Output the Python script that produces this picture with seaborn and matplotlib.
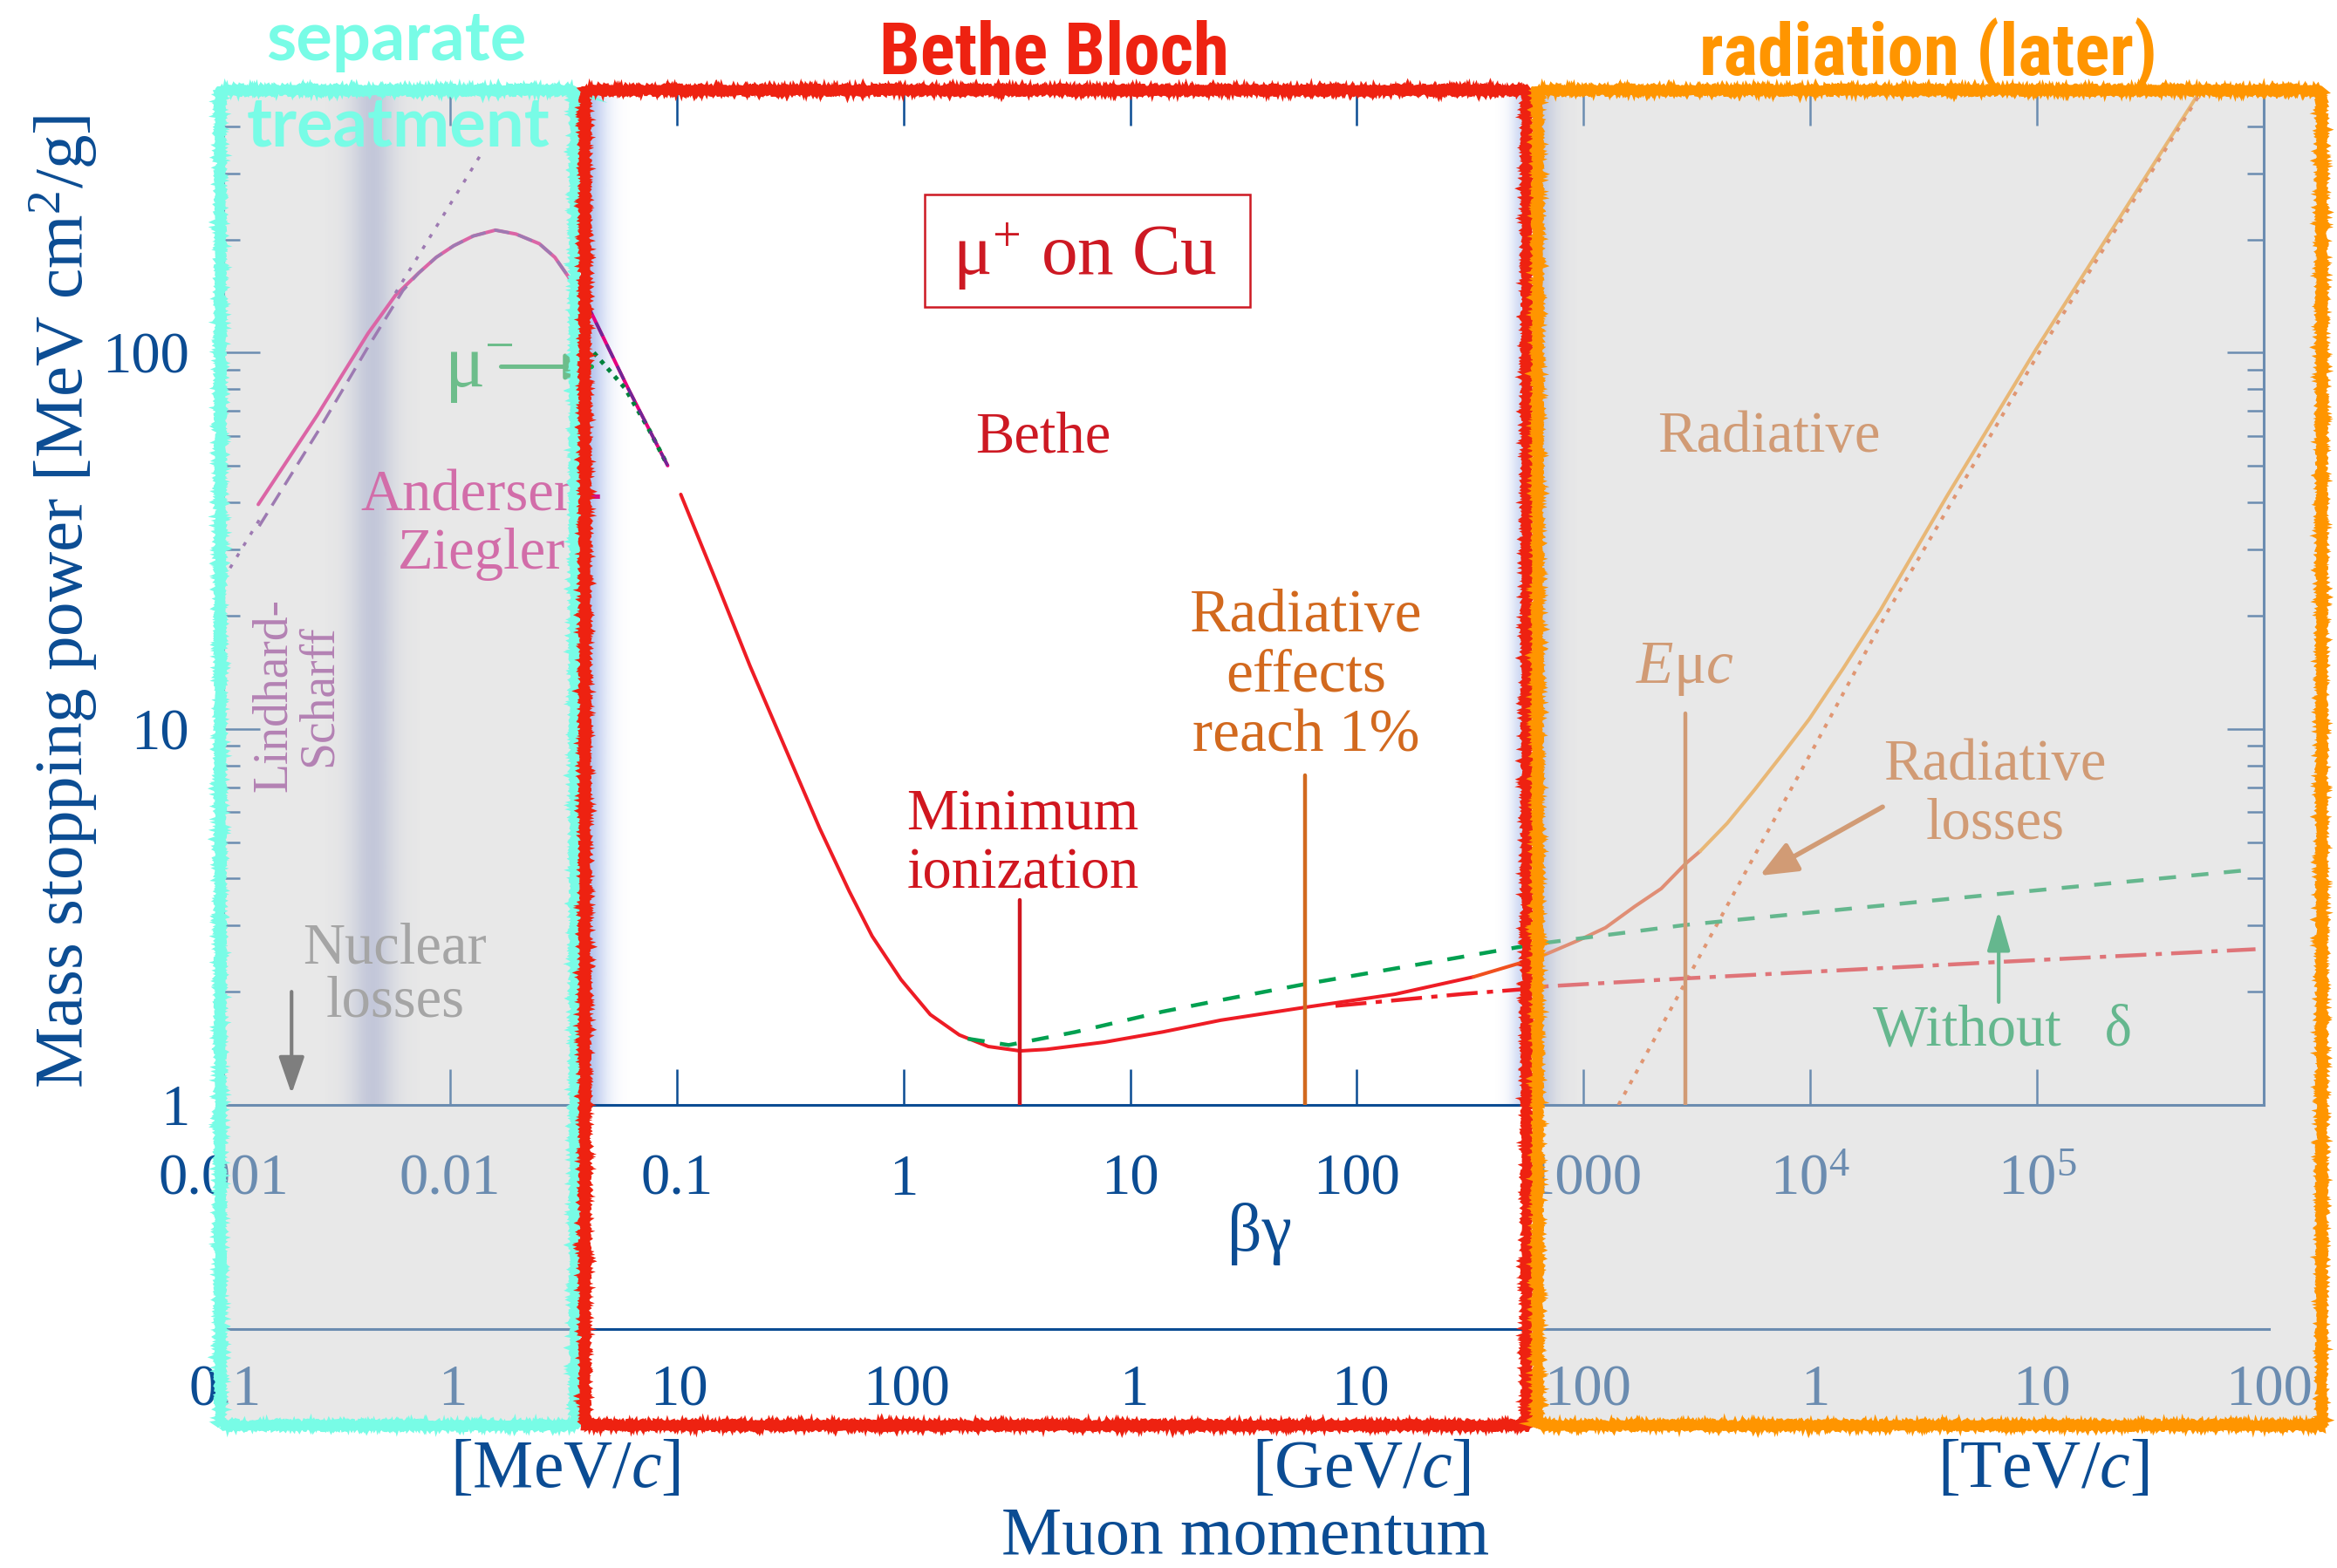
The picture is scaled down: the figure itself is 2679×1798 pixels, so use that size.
import numpy as np
import matplotlib
matplotlib.use("Agg")
import matplotlib.pyplot as plt
import seaborn as sns
from matplotlib import font_manager as fm
from matplotlib.patches import Rectangle
from matplotlib.lines import Line2D
from matplotlib.ticker import LogLocator, NullLocator, NullFormatter

# ---------------- data: mu+ on Cu, mass stopping power [MeV cm^2/g] vs beta*gamma ----------------
# Andersen-Ziegler parameterisation (low energy), continued into the Bethe region
az_bg = [0.001426, 0.0026, 0.00336, 0.00435, 0.00574, 0.00727, 0.00869, 0.01038, 0.01265, 0.01585,
         0.01953, 0.02477, 0.029, 0.0333, 0.0375, 0.0406, 0.0614, 0.0912]
az_S = [39.5, 68.3, 87.7, 112.6, 142.0, 162.9, 179.3, 192.5, 204.3, 211.8,
        206.8, 194.9, 179.3, 159.1, 141.3, 133.1, 79.8, 50.1]
# Lindhard-Scharff: curved (dashed) part and the straight asymptote (dotted)
ls_bg = [0.00144, 0.0026, 0.00435, 0.0062, 0.00727, 0.00869, 0.01038, 0.01265, 0.01585, 0.01953,
         0.02477, 0.029, 0.0333, 0.0375, 0.0406, 0.0614, 0.0912]
ls_S = [34.6, 61.4, 103.6, 146.4, 162.9, 179.3, 192.5, 204.3, 211.8, 206.8,
        194.9, 179.3, 159.1, 141.3, 133.1, 79.8, 50.1]
ls_low_bg = [0.001, 0.00144]
ls_low_S = [25.0, 35.9]
ls_high_bg = [0.00574, 0.0137]
ls_high_S = [144.0, 337.0]
# mu- (Barkas) branch
mum_bg = [0.0431, 0.0591, 0.0749, 0.0912]
mum_S = [100.0, 80.5, 63.0, 50.1]
# Bethe (ionization) curve
bethe_bg = [0.1042, 0.15, 0.2104, 0.3107, 0.4276, 0.5765, 0.7275, 0.976, 1.313, 1.763, 2.367, 3.27,
            4.27, 7.71, 13.9, 25.1, 59.2, 147.6, 327.0]
bethe_S = [42.0, 24.5, 14.7, 8.5, 5.43, 3.7, 2.81, 2.153, 1.739, 1.535, 1.43, 1.392,
           1.405, 1.469, 1.563, 1.68, 1.818, 1.970, 2.19]
# total (ionization + radiative), low part and high part
tot_low_bg = [327.0, 540.0, 645.0, 969.0, 1250.0, 1683.0, 2200.0, 2818.0, 3270.0]
tot_low_S = [2.19, 2.396, 2.48, 2.754, 2.96, 3.372, 3.76, 4.38, 4.73]
tot_high_bg = [3270.0, 4300.0, 5683.0, 7500.0, 9877.0, 14000.0, 20310.0, 40000.0, 99100.0, 515000.0]
tot_high_S = [4.73, 5.61, 6.89, 8.53, 10.6, 14.5, 20.6, 41.5, 102.2, 488.0]
# radiative losses only
rad_bg = [1426.0, 2815.0, 5683.0, 9877.0, 22030.0, 101000.0, 515000.0]
rad_S = [1.0, 2.12, 4.61, 8.45, 20.6, 99.0, 480.0]
# ionization without density effect
nodelta_bg = [1.92, 2.91, 5.74, 13.9, 25.1, 59.2, 622.0, 2818.0, 68390.0, 920000.0]
nodelta_S = [1.50, 1.443, 1.563, 1.77, 1.90, 2.096, 2.68, 3.01, 3.64, 4.23]
# ionization with density effect, no radiative losses
norad_bg = [80.5, 300.0, 540.0, 622.0, 2818.0, 68390.0, 920000.0]
norad_S = [1.834, 1.975, 2.03, 2.06, 2.17, 2.40, 2.594]

# marker lines: (beta*gamma, top of line)
min_ion = (3.27, 3.50)
rad_1pct = (59.3, 7.52)
e_muc = (2818.0, 10.98)

bg_ticks = [1e-3, 1e-2, 1e-1, 1, 10, 100, 1e3, 1e4, 1e5, 1e6]
bg_labels = ["0.001", "0.01", "0.1", "1", "10", "100", "1000", r"$10^{4}$", r"$10^{5}$", ""]
p_ticks = [0.1, 1, 10, 100, 1e3, 1e4, 1e5, 1e6, 1e7, 1e8]   # MeV/c
p_labels = ["0.1", "1", "10", "100", "1", "10", "100", "1", "10", "100"]
S_ticks = [1, 10, 100]
S_labels = ["1", "10", "100"]

# ---------------- style ----------------
sns.set_style("white")
available = {f.name for f in fm.fontManager.ttflist}


def pick(*names):
    for n in names:
        if n in available:
            return n
    return "DejaVu Sans"


SERIF = pick("Liberation Serif", "DejaVu Serif")
COND = pick("Liberation Sans Narrow", "Roboto Condensed", "Open Sans Condensed", "Liberation Sans", "DejaVu Sans")
HUMAN = pick("Lato", "Open Sans", "DejaVu Sans")

plt.rcParams.update({
    "font.family": [SERIF, "DejaVu Serif"],
    "mathtext.fontset": "custom",
    "mathtext.rm": SERIF,
    "mathtext.it": SERIF + ":italic",
    "mathtext.bf": SERIF + ":bold",
    "mathtext.default": "regular",
})

BLUE = "#0B4C93"
RED = "#EE1C25"
DRED = "#CD1923"
ORANGE_T = "#D2691E"
GREEN = "#00A050"
DGREEN = "#00823C"
PINK = "#E6007E"
PURPLE = "#6E2896"
CYAN_F = "#78FCE6"
RED_F = "#EE2211"
ORANGE_F = "#FF9500"

W, H = 2679, 1798
fig = plt.figure(figsize=(W / 100, H / 100), dpi=100)


def fx(px):
    return px / W


def fy(py):
    return 1 - py / H


# underlay for soft vertical shading bands
under = fig.add_axes([0, 0, 1, 1], zorder=0)
under.axis("off")

ax = fig.add_axes([fx(256), fy(1267), fx(2595) - fx(256), fy(103) - fy(1267)], zorder=1)
ax.patch.set_alpha(0)
ax2 = fig.add_axes([fx(258), fy(1524), fx(2601) - fx(258), 0.05], zorder=1)
ax2.patch.set_alpha(0)
over = fig.add_axes([0, 0, 1, 1], zorder=5)
over.axis("off")


def band(x0, x1, color, alpha):
    img = np.zeros((1, len(alpha), 4))
    img[..., :3] = np.array(color) / 255.0
    img[0, :, 3] = alpha
    under.imshow(img, extent=(x0, x1, 1267, 103), aspect="auto", interpolation="bilinear")


xs = np.linspace(360, 500, 80)
band(360, 500, (100, 118, 195), 0.46 * np.exp(-0.5 * ((xs - 427) / 18) ** 2))
xs = np.linspace(668, 722, 60)
band(668, 722, (90, 125, 215), 0.5 * np.exp(-0.5 * ((xs - 670) / 17) ** 2))
xs = np.linspace(1705, 1750, 60)
band(1705, 1750, (90, 125, 215), 0.35 * np.exp(-0.5 * ((xs - 1750) / 12) ** 2))
xs = np.linspace(1760, 1815, 60)
band(1760, 1815, (90, 125, 215), 0.5 * np.exp(-0.5 * ((xs - 1762) / 15) ** 2))
under.set_xlim(0, W)
under.set_ylim(H, 0)


# ---------------- curves ----------------
def curve(x, y, color, lw, ls="-", z=3):
    sns.lineplot(x=x, y=y, ax=ax, color=color, lw=lw, ls=ls, estimator=None,
                 sort=False, legend=False, zorder=z)


curve(az_bg, az_S, PINK, 2.9)
curve(ls_bg, ls_S, PURPLE, 2.5, ls=(0, (5.0, 3.0)), z=3.2)
curve(ls_low_bg, ls_low_S, PURPLE, 2.5, ls=(0, (1.3, 3.0)))
curve(ls_high_bg, ls_high_S, PURPLE, 2.5, ls=(0, (1.3, 3.0)))
curve(mum_bg, mum_S, DGREEN, 3.6, ls=(0, (1.0, 1.4)))
curve(bethe_bg, bethe_S, RED, 2.9)
curve(tot_low_bg, tot_low_S, "#F0501E", 2.9)
curve(tot_high_bg, tot_high_S, "#FFA020", 2.9)
curve(rad_bg, rad_S, "#F0601A", 2.9, ls=(0, (1.2, 2.2)))
curve(nodelta_bg, nodelta_S, GREEN, 3.2, ls=(0, (4.4, 4.0)))
curve(norad_bg, norad_S, RED, 3.2, ls=(0, (8.0, 2.4, 1.6, 2.4)))

for (xv, top), col in [(min_ion, "#D0161F"), (rad_1pct, ORANGE_T), (e_muc, ORANGE_T)]:
    curve([xv, xv], [1.0, top], col, 3.2)

ax.set_xscale("log")
ax.set_yscale("log")
ax.set_xlim(1e-3, 1e6)
ax.set_ylim(1, 500)
ax.set_xlabel("")
ax.set_ylabel("")
ax.set_xticks(bg_ticks)
ax.set_xticklabels(bg_labels)
ax.xaxis.set_minor_locator(NullLocator())
ax.set_yticks(S_ticks)
ax.set_yticklabels(S_labels)
ax.yaxis.set_minor_locator(LogLocator(base=10, subs=range(2, 10)))
ax.yaxis.set_minor_formatter(NullFormatter())
ax.tick_params(axis="x", which="major", direction="in", length=29.5, width=1.8, top=True, bottom=True,
               pad=40, labelsize=48, labelcolor=BLUE, color=BLUE)
ax.tick_params(axis="y", which="major", direction="in", length=30, width=1.8, left=True, right=True,
               pad=28, labelsize=48, labelcolor=BLUE, color=BLUE)
ax.tick_params(axis="y", which="minor", direction="in", length=14, width=1.8, left=True, right=True, color=BLUE)
for sp in ax.spines.values():
    sp.set_color(BLUE)
    sp.set_linewidth(2.2)

ax2.set_xscale("log")
ax2.set_xlim(0.1, 1e8)
ax2.set_xticks(p_ticks)
ax2.set_xticklabels(p_labels)
ax2.xaxis.set_minor_locator(NullLocator())
ax2.set_yticks([])
for k in ["left", "right", "top"]:
    ax2.spines[k].set_visible(False)
ax2.spines["bottom"].set_color(BLUE)
ax2.spines["bottom"].set_linewidth(2.2)
ax2.tick_params(axis="x", direction="in", length=29, width=1.8, pad=29, labelsize=48,
                labelcolor=BLUE, color=BLUE)

# ---------------- annotations in the plot (multi-line texts anchored on their last baseline) ----------------
ax.add_patch(Rectangle((0.3437, 0.7861), 0.1595, 0.1108, transform=ax.transAxes,
                       fill=False, edgecolor=DRED, lw=1.8, zorder=4))
ax.text(0.4224, 0.8179, r"μ$^{+}$ on Cu", transform=ax.transAxes, ha="center", va="baseline",
        fontsize=60, color=DRED, zorder=4)
ax.text(4.125, 54.4, "Bethe", ha="center", va="baseline", fontsize=48, color=DRED)
ax.text(3.365, 3.776, "Minimum\nionization", ha="center", va="baseline", fontsize=48,
        color="#D0161F", linespacing=1.12)
ax.text(59.8, 8.73, "Radiative\neffects\nreach 1%", ha="center", va="baseline", fontsize=50,
        color=ORANGE_T, linespacing=1.1)
ax.text(0.01375, 26.6, "Andersen-\nZiegler", ha="center", va="baseline", fontsize=48,
        color="#D41085", linespacing=1.12)
ax.text(0.002104, 12.28, "Lindhard-\nScharff", ha="center", va="center", fontsize=40,
        color="#993799", rotation=90, linespacing=1.0)
ax.text(0.00572, 1.715, "Nuclear\nlosses", ha="center", va="baseline", fontsize=48,
        color="#7C7C7C", linespacing=1.0)
ax.annotate("", xy=(0.002, 1.07), xytext=(0.002, 2.0),
            arrowprops=dict(arrowstyle="-|>,head_length=1.3,head_width=0.45", color="#303030",
                            lw=3.0, mutation_scale=20, shrinkA=0, shrinkB=0))
ax.text(0.0134, 80.8, r"μ$^{-}$", ha="center", va="baseline", fontsize=62, color="#10AC4A")
ax.annotate("", xy=(0.0447, 91.8), xytext=(0.0168, 91.8),
            arrowprops=dict(arrowstyle="-|>,head_length=1.1,head_width=0.45", color="#10AC4A",
                            lw=3.6, mutation_scale=20, shrinkA=0, shrinkB=0))
ax.text(6590, 54.4, "Radiative", ha="center", va="baseline", fontsize=48, color=ORANGE_T)
ax.text(2793, 13.23, r"$\mathit{E}$μ$\mathit{c}$", ha="center", va="baseline", fontsize=50, color=ORANGE_T)
ax.text(65310, 5.12, "Radiative\nlosses", ha="center", va="baseline", fontsize=48,
        color=ORANGE_T, linespacing=1.12)
ax.annotate("", xy=(5984, 4.07), xytext=(20840, 6.20),
            arrowprops=dict(arrowstyle="-|>,head_length=1.3,head_width=0.55", color=ORANGE_T,
                            lw=4.0, mutation_scale=20, shrinkA=0, shrinkB=0))
ax.text(70150, 1.438, "Without   δ", ha="center", va="baseline", fontsize=48, color=GREEN)
ax.annotate("", xy=(67760, 3.29), xytext=(67760, 1.877),
            arrowprops=dict(arrowstyle="-|>,head_length=1.4,head_width=0.4", color=GREEN,
                            lw=3.0, mutation_scale=20, shrinkA=0, shrinkB=0))

# ---------------- axis titles ----------------
fig.text(fx(73), fy(690), r"Mass stopping power [MeV cm$^{2}$/g]", rotation=90, ha="center",
         va="center", fontsize=57, color=BLUE)
fig.text(fx(1444), fy(1415), "βγ", ha="center", va="center", fontsize=56, color=BLUE)
for xp, unit in [(648, "MeV"), (1560, "GeV"), (2342, "TeV")]:
    fig.text(fx(xp), fy(1686), "[" + unit + r"/$\mathit{c}$]", ha="center", va="center",
             fontsize=56, color=BLUE)
fig.text(fx(1428), fy(1763), "Muon momentum", ha="center", va="center", fontsize=56, color=BLUE)

# ---------------- regime shading, frames and headings ----------------
grey = dict(facecolor="#D0D0D0", alpha=0.49, edgecolor="none", zorder=1)
over.add_patch(Rectangle((252, 103), 659 - 252, 1634 - 103, **grey))
over.add_patch(Rectangle((1762, 103), 2661 - 1762, 1634 - 103, **grey))


def frame(x0, x1, y0, y1, color):
    px = [x0, x1, x1, x0, x0]
    py = [y0, y0, y1, y1, y0]
    for lw, sk, d in [(6.5, (1.5, 8.0, 4.0), 0.0), (3.0, (3.2, 2.5, 6.0), -2.5), (3.0, (3.0, 3.0, 5.0), 2.5)]:
        ln = Line2D([v + d for v in px], [v + d for v in py], color=color, lw=lw,
                    solid_joinstyle="miter", zorder=3)
        ln.set_sketch_params(*sk)
        over.add_line(ln)


frame(252, 659, 103, 1634, CYAN_F)
frame(670, 1750, 103, 1634, RED_F)
frame(1762, 2661, 103, 1634, ORANGE_F)

over.text(454, 69, "separate", ha="center", va="baseline", fontsize=56, fontweight="bold",
          family=HUMAN, color=CYAN_F, zorder=4)
over.text(456, 167, "treatment", ha="center", va="baseline", fontsize=56, fontweight="bold",
          family=HUMAN, color=CYAN_F, zorder=4)
over.text(1209, 85, "Bethe Bloch", ha="center", va="baseline", fontsize=60, fontweight="bold",
          family=COND, color=RED_F, zorder=4)
over.text(2210, 85, "radiation (later)", ha="center", va="baseline", fontsize=60, fontweight="bold",
          family=COND, color=ORANGE_F, zorder=4)
over.set_xlim(0, W)
over.set_ylim(H, 0)

fig.savefig("out.png", dpi=100)
